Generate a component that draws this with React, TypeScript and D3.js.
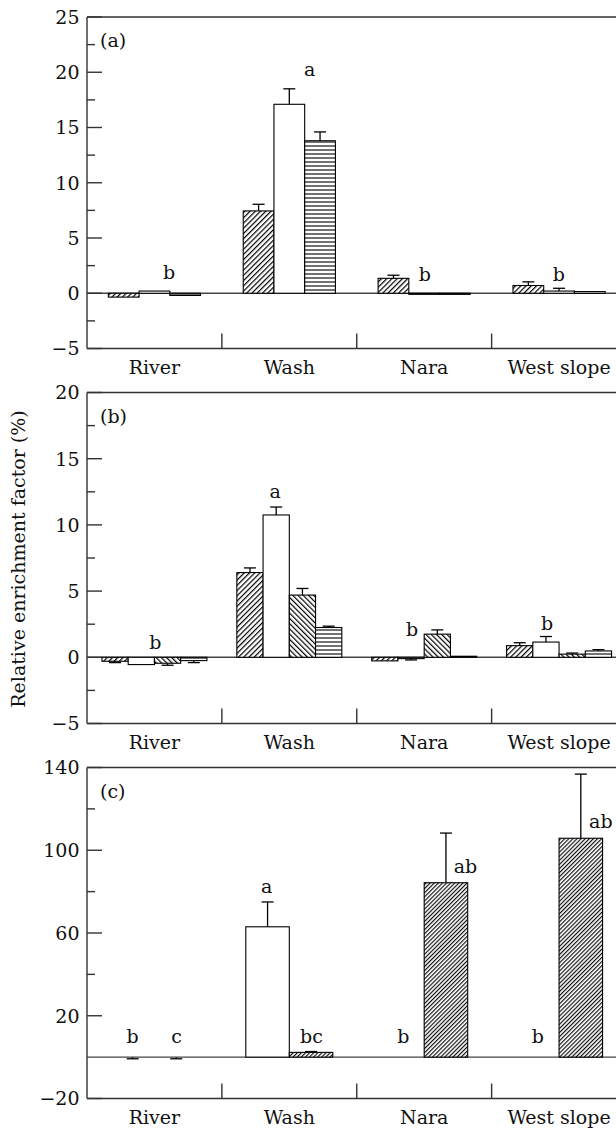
import React from 'react';
import * as d3 from 'd3';

const categories = ['River', 'Wash', 'Nara', 'West slope'];

// Panel (a)
const seriesA = ['fwd', 'open', 'horiz'];
const meanA = [[-0.35, 0.2, -0.2], [7.45, 17.1, 13.8], [1.35, -0.1, -0.1], [0.7, 0.2, 0.15]];
const errA = [[0, 0, 0], [0.6, 1.4, 0.8], [0.28, 0, 0], [0.33, 0.25, 0]];
const lettersA: [number, number, number, string][] = [[0, 1.98, 1.3, 'b'], [1, 2.16, 19.67, 'a'], [2, 1.52, 1.08, 'b'], [3, 1.49, 1.08, 'b']];
const ticksA = [-5, 0, 5, 10, 15, 20, 25];
const minorA = [-2.5, 2.5, 7.5, 12.5, 17.5, 22.5];

// Panel (b)
const seriesB = ['fwd', 'open', 'back', 'horiz'];
const meanB = [[-0.3, -0.55, -0.45, -0.25], [6.4, 10.75, 4.7, 2.25], [-0.27, -0.1, 1.75, 0.08], [0.88, 1.15, 0.24, 0.48]];
const errB = [[0.1, 0, 0.15, 0.15], [0.35, 0.6, 0.5, 0.1], [0, 0.1, 0.32, 0], [0.22, 0.42, 0.08, 0.1]];
const lettersB: [number, number, number, string][] = [[0, 2.03, 0.6, 'b'], [1, 1.46, 12.0, 'a'], [2, 1.54, 1.58, 'b'], [3, 1.54, 2.07, 'b']];
const ticksB = [-5, 0, 5, 10, 15, 20];
const minorB = [-2.5, 2.5, 7.5, 12.5, 17.5];

// Panel (c)
const seriesC = ['open', 'fwd2'];
const meanC = [[0, 0], [63, 2.3], [0, 84.3], [0, 105.8]];
const errC = [[0.8, 0.8], [12, 0.4], [0, 24], [0, 31]];
const lettersC: [number, number, number, string][] = [
  [0, 0.5, 6.6, 'b'], [0, 1.51, 6.6, 'c'], [1, 0.48, 79.5, 'a'], [1, 1.51, 6.8, 'bc'],
  [2, 0.52, 6.6, 'b'], [2, 1.95, 89.2, 'ab'], [3, 0.51, 6.6, 'b'], [3, 1.96, 110.6, 'ab'],
];
const ticksC = [-20, 20, 60, 100, 140];
const minorC = [40, 80, 120];

const FONT = 'DejaVu Serif';
const fmt = (v: number) => (v < 0 ? '\u2212' + Math.abs(v) : String(v));

const panels = [
  { tag: '(a)', series: seriesA, mean: meanA, err: errA, letters: lettersA, ticks: ticksA, minor: minorA, domain: [-5, 25], top: 17, bottom: 348.5, pad: 0.695, labelTicks: ticksA },
  { tag: '(b)', series: seriesB, mean: meanB, err: errB, letters: lettersB, ticks: ticksB, minor: minorB, domain: [-5, 20], top: 392.5, bottom: 723.5, pad: 0.57, labelTicks: ticksB },
  { tag: '(c)', series: seriesC, mean: meanC, err: errC, letters: lettersC, ticks: ticksC, minor: minorC, domain: [-20, 140], top: 767.5, bottom: 1098.5, pad: 0.55, labelTicks: ticksC },
];

const fillFor = (s: string) => (s === 'open' ? '#fff' : `url(#p-${s})`);

function Panel({ p, idx }: { p: any; idx: number }) {
  const left = 87;
  const right = 626.5;
  const x = d3.scaleBand<string>().domain(categories).range([left, right]).padding(0);
  const y = d3.scaleLinear().domain(p.domain).range([p.bottom, p.top]);
  const inner = d3.scaleBand<string>().domain(p.series).range([0, x.bandwidth()]).paddingInner(0).paddingOuter(p.pad);
  const step = inner.step();
  const y0 = y(0);
  const capW = 12;
  return (
    <g>
      {/* zero line */}
      <line x1={left} x2={right} y1={y0} y2={y0} stroke="#444" strokeWidth={1.4} />
      {/* bars */}
      {categories.map((c, ci) =>
        p.series.map((s: string, si: number) => {
          const v = p.mean[ci][si];
          const e = p.err[ci][si];
          const bx = (x(c) as number) + (inner(s) as number);
          const cx = bx + inner.bandwidth() / 2;
          const yv = y(v);
          const ye = v >= 0 && !(v === 0 && e > 0 && ci === 0) ? y(v + e) : y(v - e);
          return (
            <g key={c + s}>
              {v !== 0 && (
                <rect x={bx} y={Math.min(yv, y0)} width={inner.bandwidth()} height={Math.abs(yv - y0)} fill={fillFor(s)} stroke="#000" strokeWidth={1.1} />
              )}
              {e > 0 && (
                <g stroke="#000" strokeWidth={1.3}>
                  <line x1={cx} x2={cx} y1={yv} y2={ye} />
                  <line x1={cx - capW / 2} x2={cx + capW / 2} y1={ye} y2={ye} />
                </g>
              )}
            </g>
          );
        })
      )}
      {/* letters */}
      {p.letters.map((l: [number, number, number, string], i: number) => (
        <text key={i} x={(x(categories[l[0]]) as number) + (inner(p.series[0]) as number) + l[1] * step} y={y(l[2])} textAnchor="middle" fontFamily={FONT} fontSize={19} fill="#111">
          {l[3]}
        </text>
      ))}
      {/* frame */}
      <g stroke="#333" strokeWidth={1.4} fill="none">
        <line x1={left} x2={right} y1={p.top} y2={p.top} />
        <line x1={left} x2={right} y1={p.bottom} y2={p.bottom} />
        <line x1={left} x2={left} y1={p.top} y2={p.bottom} />
        <line x1={right} x2={right} y1={p.top} y2={p.bottom} />
        {categories.slice(1).map((c) => (
          <line key={c} x1={x(c) as number} x2={x(c) as number} y1={p.bottom} y2={p.bottom - 15} />
        ))}
        {p.ticks.map((t: number) => (
          <line key={'t' + t} x1={left} x2={left + 15} y1={y(t)} y2={y(t)} />
        ))}
        {p.minor.map((t: number) => (
          <line key={'m' + t} x1={left} x2={left + 8} y1={y(t)} y2={y(t)} />
        ))}
      </g>
      {p.labelTicks.map((t: number) => (
        <text key={'l' + t} x={79.5} y={y(t)} dy="0.36em" textAnchor="end" fontFamily={FONT} fontSize={19} fill="#111">
          {fmt(t)}
        </text>
      ))}
      {categories.map((c) => (
        <text key={'c' + c} x={(x(c) as number) + x.bandwidth() / 2} y={p.bottom + 25} textAnchor="middle" fontFamily={FONT} fontSize={19} fill="#111">
          {c}
        </text>
      ))}
      <text x={100} y={p.top + 30} fontFamily={FONT} fontSize={19} fill="#111">
        {p.tag}
      </text>
    </g>
  );
}

export default function App() {
  return (
    <svg width={616} height={1129} style={{ position: 'absolute', left: 0, top: 0, background: '#fff' }}>
      <defs>
        <pattern id="p-fwd" width={3.7} height={3.7} patternUnits="userSpaceOnUse" patternTransform="rotate(45)">
          <rect width={3.7} height={3.7} fill="#fff" />
          <line x1={0.6} x2={0.6} y1={0} y2={3.7} stroke="#000" strokeWidth={1.2} />
        </pattern>
        <pattern id="p-back" width={3.7} height={3.7} patternUnits="userSpaceOnUse" patternTransform="rotate(-45)">
          <rect width={3.7} height={3.7} fill="#fff" />
          <line x1={0.6} x2={0.6} y1={0} y2={3.7} stroke="#000" strokeWidth={1.2} />
        </pattern>
        <pattern id="p-fwd2" width={2.9} height={2.9} patternUnits="userSpaceOnUse" patternTransform="rotate(45)">
          <rect width={2.9} height={2.9} fill="#fff" />
          <line x1={0.6} x2={0.6} y1={0} y2={2.9} stroke="#000" strokeWidth={1.1} />
        </pattern>
        <pattern id="p-horiz" width={8} height={4} patternUnits="userSpaceOnUse">
          <rect width={8} height={4} fill="#fff" />
          <line x1={0} x2={8} y1={2} y2={2} stroke="#000" strokeWidth={1.1} />
        </pattern>
      </defs>
      <rect width={616} height={1129} fill="#fff" />
      {panels.map((p, i) => (
        <Panel key={i} p={p} idx={i} />
      ))}
      <text transform="translate(25,559) rotate(-90)" textAnchor="middle" fontFamily={FONT} fontSize={19} fill="#111">
        Relative enrichment factor (%)
      </text>
    </svg>
  );
}
